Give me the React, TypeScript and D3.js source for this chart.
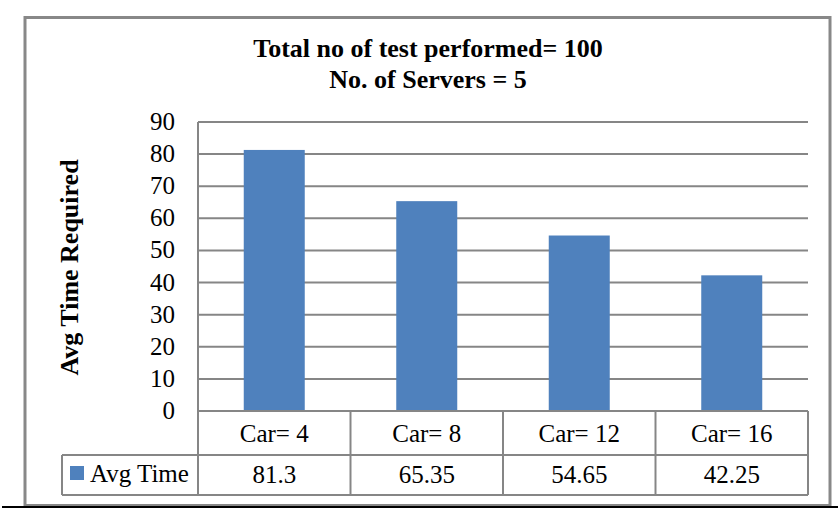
import React from "react";
import * as d3 from "d3";

const categories = ["Car= 4", "Car= 8", "Car= 12", "Car= 16"];
const avgTime = [81.3, 65.35, 54.65, 42.25];
const valueLabels = ["81.3", "65.35", "54.65", "42.25"];
const yTicks = [0, 10, 20, 30, 40, 50, 60, 70, 80, 90];
const seriesName = "Avg Time";
const titleLines = ["Total no of test performed= 100", "No. of Servers = 5"];
const yTitle = "Avg Time Required";

const W = 838, H = 520;
const plot = { left: 198, right: 808, top: 122, bottom: 411 };
const font = "'Liberation Serif', 'Times New Roman', serif";
const grid = "#868686";
const barColor = "#4F81BD";

export default function App() {
  const x = d3.scaleBand().domain(categories).range([plot.left, plot.right]).paddingInner(0).paddingOuter(0);
  const y = d3.scaleLinear().domain([0, 90]).range([plot.bottom, plot.top]);
  const bw = 61;
  const row1 = 455, row2 = 495;
  const legLeft = 62;
  return (
    <svg width={W} height={H} style={{ position: "absolute", left: 0, top: 0, display: "block", background: "#fff" }} fontFamily={font}>
      <rect x={0} y={0} width={W} height={H} fill="#fff" />
      <rect x={25} y={17.5} width={805} height={488} fill="none" stroke="#888" strokeWidth={3} />
      <line x1={2} x2={838} y1={507} y2={507} stroke="#000" strokeWidth={2} />
      {titleLines.map((t, i) => (
        <text key={i} x={428} y={57 + i * 31} textAnchor="middle" fontWeight="bold" fontSize={26}>{t}</text>
      ))}
      {yTicks.map((t) => (
        <g key={t}>
          <line x1={plot.left} x2={plot.right} y1={y(t)} y2={y(t)} stroke={grid} strokeWidth={2} />
          <text x={175} y={y(t) + 8} textAnchor="end" fontSize={25}>{t}</text>
        </g>
      ))}
      <line x1={plot.left} x2={plot.left} y1={plot.top} y2={plot.bottom} stroke={grid} strokeWidth={2} />
      {categories.map((c, i) => (
        <rect key={c} x={(x(c) as number) + x.bandwidth() / 2 - bw / 2} y={y(avgTime[i])} width={bw} height={y(0) - y(avgTime[i])} fill={barColor} />
      ))}
      <text transform={`translate(78,${(plot.top + plot.bottom) / 2 + 1}) rotate(-90)`} textAnchor="middle" fontWeight="bold" fontSize={26}>{yTitle}</text>
      {/* data table */}
      <g stroke={grid} strokeWidth={2} fill="none">
        <line x1={plot.left} x2={plot.right} y1={plot.bottom} y2={plot.bottom} />
        <line x1={legLeft} x2={plot.right} y1={row1} y2={row1} />
        <line x1={legLeft} x2={plot.right} y1={row2} y2={row2} />
        <line x1={legLeft} x2={legLeft} y1={row1} y2={row2} />
        <line x1={plot.left} x2={plot.left} y1={plot.bottom} y2={row2} />
        {categories.map((c) => (
          <line key={c} x1={(x(c) as number) + x.bandwidth()} x2={(x(c) as number) + x.bandwidth()} y1={plot.bottom} y2={row2} />
        ))}
      </g>
      {categories.map((c, i) => (
        <g key={c}>
          <text x={(x(c) as number) + x.bandwidth() / 2} y={442} textAnchor="middle" fontSize={25}>{c}</text>
          <text x={(x(c) as number) + x.bandwidth() / 2} y={483} textAnchor="middle" fontSize={25}>{valueLabels[i]}</text>
        </g>
      ))}
      <rect x={70} y={466} width={14} height={14} fill={barColor} />
      <text x={90} y={482} fontSize={25}>{seriesName}</text>
    </svg>
  );
}
